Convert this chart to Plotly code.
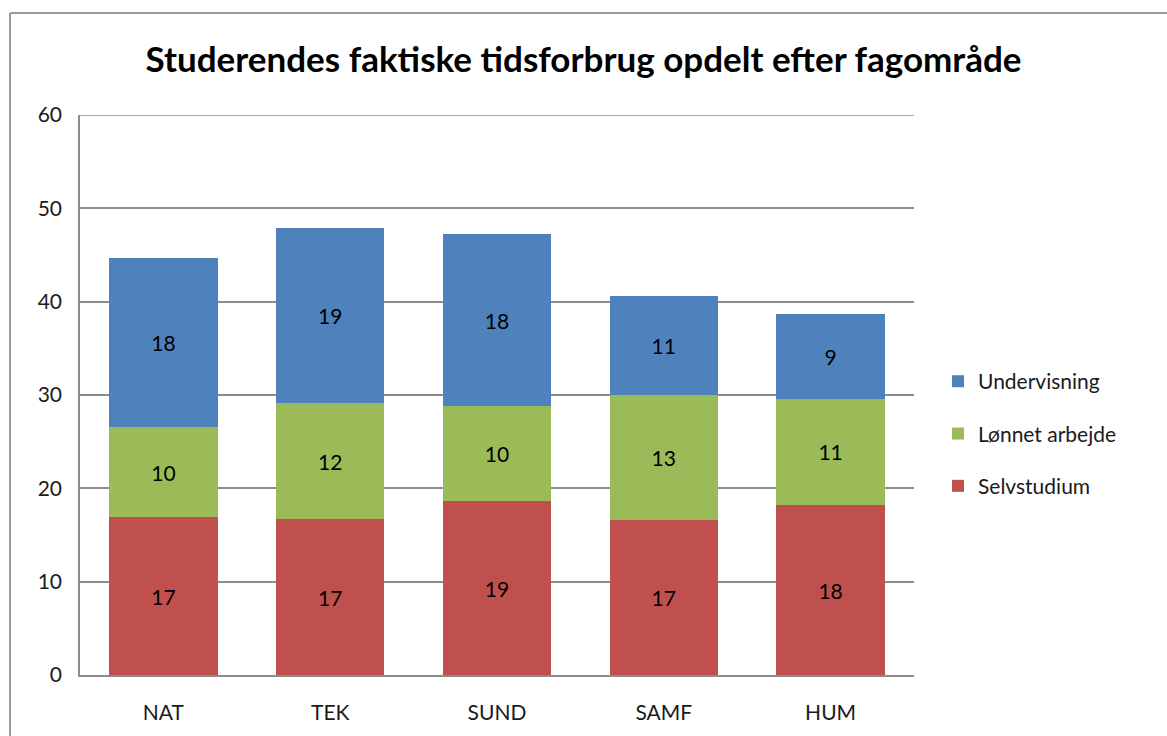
import plotly.graph_objects as go

# Data
fagomraader = ['NAT', 'TEK', 'SUND', 'SAMF', 'HUM']
selvstudium = [16.9, 16.7, 18.6, 16.6, 18.2]
loennet_arbejde = [9.7, 12.4, 10.2, 13.4, 11.4]
undervisning = [18.1, 18.8, 18.4, 10.6, 9.1]
y_max = 60

font_family = 'Lato, "Open Sans", sans-serif'
text_color = '#1a1a1a'
grid_color = '#8c8c8c'

# (name, values, colour, legend position)
series = [
    ('Selvstudium', selvstudium, '#C0504D', 3),
    ('Lønnet arbejde', loennet_arbejde, '#9BBB59', 2),
    ('Undervisning', undervisning, '#4F81BD', 1),
]

fig = go.Figure()
for name, values, color, rank in series:
    fig.add_trace(go.Bar(
        x=fagomraader, y=values, name=name, legendgroup=name,
        legendrank=rank,
        marker=dict(color=color, line=dict(width=0)),
        texttemplate='%{y:.0f}', textposition='inside',
        insidetextanchor='middle',
        textfont=dict(family=font_family, size=21, color='black'),
    ))

# Margins chosen so the plot area sits where it does in the picture
m_l, m_r, m_t, m_b = 80, 253, 115, 55
plot_w = 1167 - m_l - m_r
plot_h = 736 - m_t - m_b

fig.update_layout(
    width=1167, height=736,
    margin=dict(l=m_l, r=m_r, t=m_t, b=m_b),
    barmode='stack', bargap=0.35,
    paper_bgcolor='white', plot_bgcolor='white',
    font=dict(family=font_family, color=text_color, size=20),
    title=dict(
        text='<b>Studerendes faktiske tidsforbrug opdelt efter fagområde</b>',
        x=0.5, xref='container', xanchor='center',
        y=1 - 60 / 736, yanchor='middle',
        font=dict(family=font_family, size=35, color='black'),
    ),
    legend=dict(
        x=1 + (938 - 914) / plot_w, xanchor='left',
        y=0.5 - 39 / plot_h, yanchor='middle',
        traceorder='grouped', tracegroupgap=22,
        font=dict(size=21, color=text_color),
        itemwidth=30,
    ),
    showlegend=True,
)

fig.update_yaxes(
    range=[0, y_max], dtick=10,
    showgrid=True, gridcolor=grid_color, gridwidth=1.5,
    showline=True, linecolor=grid_color, linewidth=1.5,
    zeroline=False,
    ticks='', ticklabelstandoff=12,
    tickfont=dict(size=21, color=text_color),
)
fig.update_xaxes(
    showline=True, linecolor=grid_color, linewidth=1.5,
    ticks='', ticklabelstandoff=18,
    tickfont=dict(size=21, color=text_color),
)

# Top gridline (plotly drops the one on the plot edge)
fig.add_shape(type='line', xref='paper', yref='y',
              x0=0, x1=1, y0=y_max, y1=y_max,
              line=dict(color=grid_color, width=1.5))

# Outer frame of the chart area (left and top edges visible in the picture)
fx = (10 - m_l) / plot_w
fy = (736 - 12 - m_b) / plot_h
fig.add_shape(type='line', xref='paper', yref='paper',
              x0=fx, x1=fx, y0=-0.2, y1=fy,
              line=dict(color='#9a9a9a', width=2))
fig.add_shape(type='line', xref='paper', yref='paper',
              x0=fx, x1=1.4, y0=fy, y1=fy,
              line=dict(color='#9a9a9a', width=2))

fig.write_html('out.html', config={'displayModeBar': False},
               post_script="document.body.style.margin='0';")
